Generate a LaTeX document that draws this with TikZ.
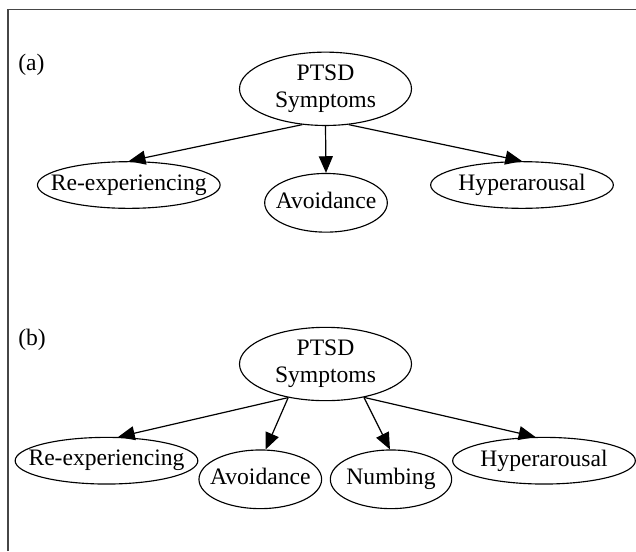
\documentclass[tikz,border=0pt]{standalone}
\usepackage{fontspec}
\setmainfont{Liberation Serif}
\usetikzlibrary{arrows.meta,shapes.geometric}
\definecolor{ink}{RGB}{0,0,0}
\definecolor{rule}{RGB}{70,70,70}
\newcommand{\slim}[1]{\makebox[0pt]{#1\vphantom{Ay}}}
\tikzset{
  sym/.style={draw=ink, ellipse, line width=0.85pt, inner sep=0pt,
              font=\fontsize{17.7pt}{20.5pt}\selectfont, align=center},
  wide/.style={sym, minimum width=137pt, minimum height=35pt},
  mid/.style={sym, minimum width=92pt, minimum height=44pt},
  top/.style={sym, minimum width=129pt, minimum height=55pt},
  tag/.style={font=\fontsize{17.7pt}{20.5pt}\selectfont, anchor=base west, inner sep=0pt},
  flow/.style={-{Triangle[length=12.5pt,width=10.5pt]}, ink, line width=0.9pt},
}

\begin{document}
\begin{tikzpicture}[x=0.75pt,y=-0.75pt]
  \useasboundingbox (0,0) rectangle (636,551);
  \draw[rule, line width=1pt] (8,551) -- (8,9.5) -- (636,9.5);
  % (a)
  \node[tag] (tagA) at (18,70) {(a)};
  \node[top] (ptsdA) at (325.5,88.8) {PTSD\\Symptoms};
  \node[wide] (reexpA) at (128.8,185) {\slim{Re-experiencing}};
  \node[mid] (avoidA) at (326,202.8) {\slim{Avoidance}};
  \node[wide] (hyperA) at (522,185) {\slim{Hyperarousal}};
  \draw[flow] (ptsdA.237) -- (reexpA.north);
  \draw[flow] (ptsdA.south) -- (avoidA.north);
  \draw[flow] (ptsdA.303) -- (hyperA.north);
  % (b)
  \node[tag] (tagB) at (18,345) {(b)};
  \node[top] (ptsdB) at (325.5,364) {PTSD\\Symptoms};
  \node[wide] (reexpB) at (106.5,460.7) {\slim{Re-experiencing}};
  \node[mid] (avoidB) at (260.3,479.3) {\slim{Avoidance}};
  \node[mid, minimum width=91pt] (numbB) at (391,479.3) {\slim{Numbing}};
  \node[wide] (hyperB) at (544,460.7) {\slim{Hyperarousal}};
  \draw[flow] (ptsdB.222) -- (reexpB.64);
  \draw[flow] (ptsdB.222) -- (avoidB.80);
  \draw[flow] (ptsdB.319) -- (numbB.92);
  \draw[flow] (ptsdB.319) -- (hyperB.110);
\end{tikzpicture}
\end{document}
